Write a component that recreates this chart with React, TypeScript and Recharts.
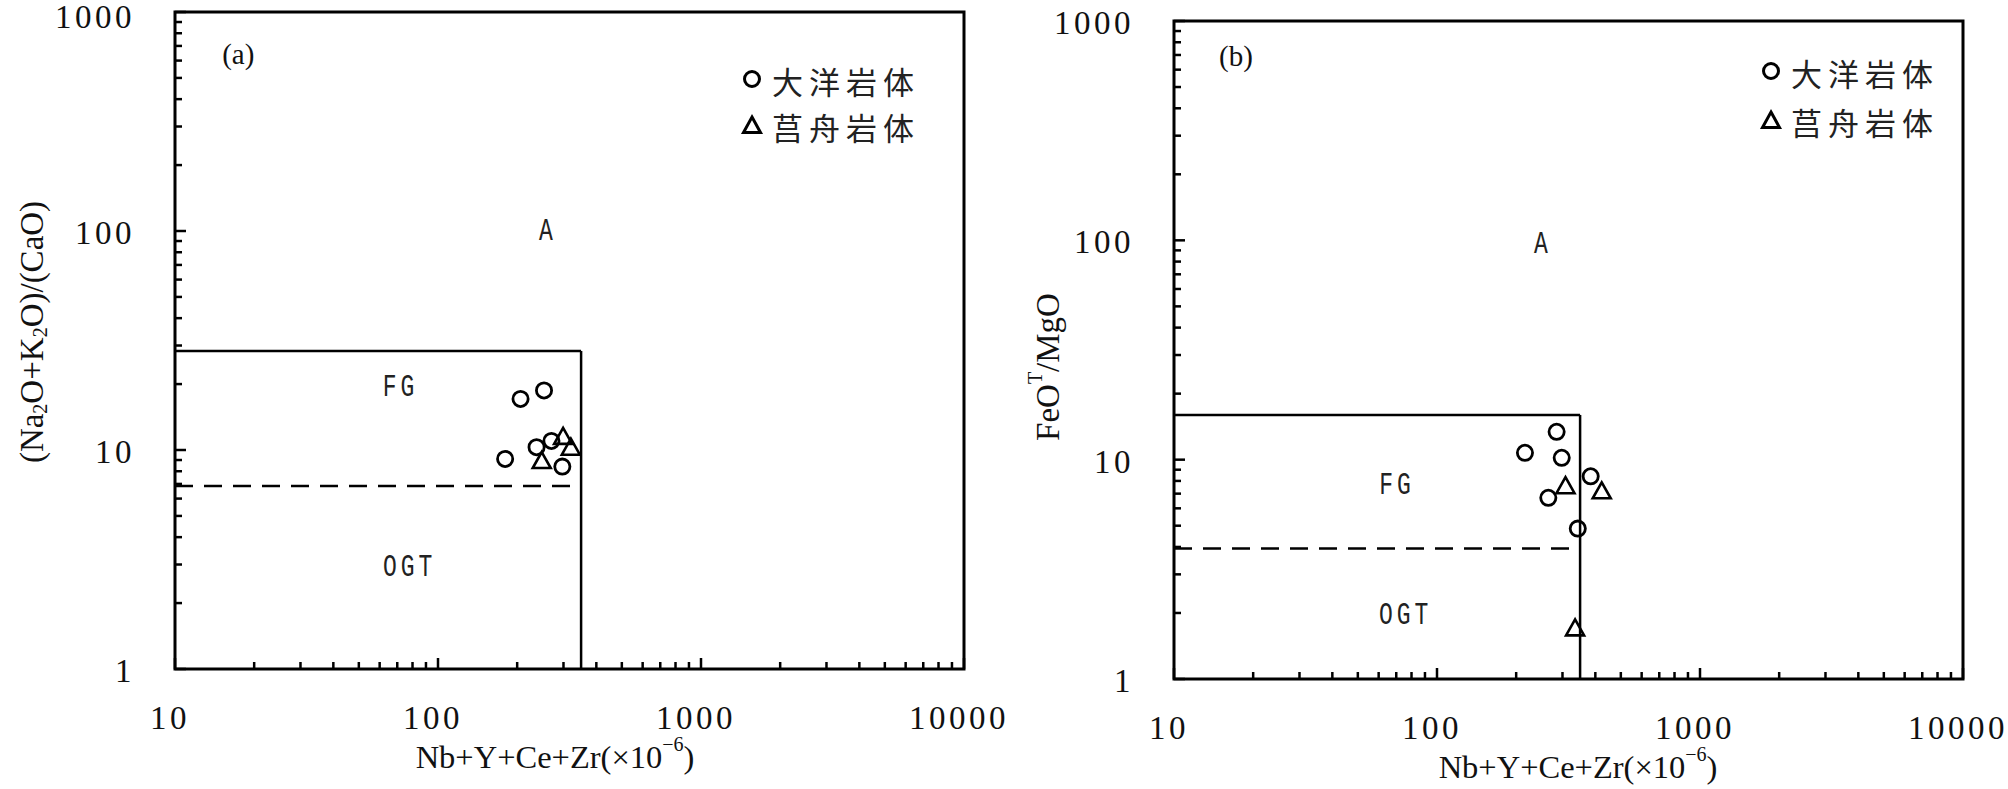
import React from "react";
import {
  ScatterChart,
  Scatter,
  XAxis,
  YAxis,
  ReferenceLine,
  ReferenceArea,
  ReferenceDot,
} from "recharts";

// legend names
const seriesNames = ["大洋岩体", "莒舟岩体"];

// log axes: all tick positions, and the labelled decades
const xTicks = [
  10, 20, 30, 40, 50, 60, 70, 80, 90, 100, 200, 300, 400, 500, 600, 700, 800,
  900, 1000, 2000, 3000, 4000, 5000, 6000, 7000, 8000, 9000, 10000,
];
const xMajor = [10, 100, 1000, 10000];
const yTicks = [
  1, 2, 3, 4, 5, 6, 7, 8, 9, 10, 20, 30, 40, 50, 60, 70, 80, 90, 100, 200, 300,
  400, 500, 600, 700, 800, 900, 1000,
];
const yMajor = [1, 10, 100, 1000];

// panel (a): (Na2O+K2O)/CaO
const dayangAx = [206, 253, 180, 237, 270, 297];
const dayangAy = [17.1, 18.7, 9.1, 10.3, 11.0, 8.4];
const juzhouAx = [248, 299, 320];
const juzhouAy = [9.0, 11.6, 10.35];
// field lines: [box right x, box top y, dashed y, dashed end x]
const fieldA = [350, 28.3, 6.85, 320];

// panel (b): FeOT/MgO
const dayangBx = [285, 216, 298, 384, 265, 343];
const dayangBy = [13.4, 10.75, 10.2, 8.4, 6.7, 4.85];
const juzhouBx = [308, 423, 335];
const juzhouBy = [7.65, 7.25, 1.72];
const fieldB = [350, 16.0, 3.94, 318];

// field names and where they sit
const regionNames = ["A", "FG", "OGT"];
const regionAx = [262, 72, 78];
const regionAy = [100, 19.2, 2.9];
const regionBx = [253, 70.5, 76];
const regionBy = [96, 7.6, 1.94];
// panel tag position
const tagA = [17.4, 643];
const tagB = [17.2, 692];

const SERIF = '"Liberation Serif", "Times New Roman", serif';
const CJK = '"Noto Sans CJK SC", "Noto Sans CJK JP", sans-serif';

const zip = (xs: number[], ys: number[]) => xs.map((x, i) => ({ x, y: ys[i] }));

const Circle = (p: any) => (
  <circle cx={p.cx} cy={p.cy} r={7.6} fill="none" stroke="#000" strokeWidth={2.8} />
);
const Tri = (p: any) => (
  <path
    d={`M${p.cx},${p.cy - 8} L${p.cx + 9},${p.cy + 8} L${p.cx - 9},${p.cy + 8} Z`}
    fill="none"
    stroke="#000"
    strokeWidth={2.6}
    strokeLinejoin="miter"
  />
);

function makeXTick(labelDy: number) {
  return (props: any) => {
    const { x, y, payload } = props;
    const v = payload.value;
    const major = xMajor.includes(v);
    return (
      <g>
        <line x1={x} y1={y} x2={x} y2={y - (major ? 11 : 7)} stroke="#000" strokeWidth={2.5} />
        {major ? (
          <text
            x={x - 5}
            y={y + labelDy}
            textAnchor="middle"
            dominantBaseline="central"
            fontFamily={SERIF}
            fontSize={33}
            fill="#111"
            style={{ letterSpacing: 3.5 }}
          >
            {v}
          </text>
        ) : null}
      </g>
    );
  };
}

function makeYTick(labelDx: number) {
  return (props: any) => {
    const { x, y, payload } = props;
    const v = payload.value;
    const major = yMajor.includes(v);
    return (
      <g>
        <line x1={x} y1={y} x2={x + (major ? 11 : 7)} y2={y} stroke="#000" strokeWidth={2.5} />
        {major ? (
          <text
            x={x - labelDx}
            y={Math.max(y + 2, 17)}
            textAnchor="end"
            dominantBaseline="central"
            fontFamily={SERIF}
            fontSize={33}
            fill="#111"
            style={{ letterSpacing: 3.5 }}
          >
            {v}
          </text>
        ) : null}
      </g>
    );
  };
}

type PanelProps = {
  left: number;
  width: number;
  plot: { l: number; t: number; r: number; b: number };
  dayang: { x: number; y: number }[];
  juzhou: { x: number; y: number }[];
  field: number[];
  rx: number[];
  ry: number[];
  tag: number[];
  tagText: string;
  yTitle: React.ReactNode;
  yTitlePos: [number, number];
  xTitlePos: [number, number];
  legendPos: [number, number, number];
};

function Panel(p: PanelProps) {
  const H = 789;
  const [boxX, boxY, dashY, dashX] = p.field;
  return (
    <div style={{ position: "absolute", left: p.left, top: 0, width: p.width, height: H }}>
      <ScatterChart
        width={p.width}
        height={H}
        margin={{ top: p.plot.t, right: p.plot.r, bottom: 0, left: 0 }}
      >
        <XAxis
          type="number"
          dataKey="x"
          scale="log"
          domain={[10, 10000]}
          allowDataOverflow
          ticks={xTicks}
          interval={0}
          height={p.plot.b}
          axisLine={false}
          tickLine={false}
          tickSize={0}
          tickMargin={0}
          tick={makeXTick(49)}
          label={{
            content: () => (
              <text
                x={p.xTitlePos[0]}
                y={p.xTitlePos[1]}
                textAnchor="middle"
                dominantBaseline="central"
                fontFamily={SERIF}
                fontSize={32.5}
                fill="#111"
              >
                Nb+Y+Ce+Zr(×10
                <tspan dy={-13} fontSize={20}>
                  −6
                </tspan>
                <tspan dy={13}>)</tspan>
              </text>
            ),
          }}
        />
        <YAxis
          type="number"
          dataKey="y"
          scale="log"
          domain={[1, 1000]}
          allowDataOverflow
          ticks={yTicks}
          interval={0}
          width={p.plot.l}
          axisLine={false}
          tickLine={false}
          tickSize={0}
          tickMargin={0}
          tick={makeYTick(40)}
          label={{
            content: () => (
              <text
                x={p.yTitlePos[0]}
                y={p.yTitlePos[1]}
                textAnchor="middle"
                dominantBaseline="central"
                fontFamily={SERIF}
                fontSize={33}
                fill="#111"
                transform={`rotate(-90 ${p.yTitlePos[0]} ${p.yTitlePos[1]})`}
              >
                {p.yTitle}
              </text>
            ),
          }}
        />
        <ReferenceArea
          x1={10}
          x2={10000}
          y1={1}
          y2={1000}
          fill="none"
          fillOpacity={0}
          stroke="#000"
          strokeWidth={3}
        />
        <ReferenceLine
          segment={[
            { x: 10, y: boxY },
            { x: boxX, y: boxY },
          ]}
          stroke="#000"
          strokeWidth={2.5}
        />
        <ReferenceLine
          segment={[
            { x: boxX, y: 1 },
            { x: boxX, y: boxY },
          ]}
          stroke="#000"
          strokeWidth={2.5}
        />
        <ReferenceLine
          segment={[
            { x: 10, y: dashY },
            { x: dashX, y: dashY },
          ]}
          stroke="#000"
          strokeWidth={2.5}
          strokeDasharray="18 11"
        />
        {regionNames.map((name, i) => (
          <ReferenceDot
            key={name}
            x={p.rx[i]}
            y={p.ry[i]}
            r={0}
            shape={(d: any) => (
              <text
                transform={`translate(${d.cx},${d.cy}) scale(1,1.35)`}
                textAnchor="middle"
                dominantBaseline="central"
                fontFamily='"Liberation Mono", monospace'
                fontSize={23}
                fill="#222"
                style={{ letterSpacing: 4 }}
              >
                {name}
              </text>
            )}
          />
        ))}
        <ReferenceDot
          x={p.tag[0]}
          y={p.tag[1]}
          r={0}
          shape={(d: any) => (
            <text
              x={d.cx}
              y={d.cy}
              textAnchor="middle"
              dominantBaseline="central"
              fontFamily={SERIF}
              fontSize={29}
              fill="#111"
            >
              {p.tagText}
            </text>
          )}
        />
        <Scatter name={seriesNames[0]} data={p.dayang} shape={Circle} isAnimationActive={false} />
        <Scatter name={seriesNames[1]} data={p.juzhou} shape={Tri} isAnimationActive={false} />
      </ScatterChart>
      <svg
        width={p.width}
        height={H}
        style={{ position: "absolute", left: 0, top: 0, pointerEvents: "none" }}
      >
        {seriesNames.map((name, i) => {
          const cx = p.legendPos[0];
          const cy = p.legendPos[1] + i * p.legendPos[2];
          return (
            <g key={name}>
              {i === 0 ? (
                <circle cx={cx} cy={cy} r={7.5} fill="none" stroke="#000" strokeWidth={3} />
              ) : (
                <path
                  d={`M${cx},${cy - 8} L${cx + 8.5},${cy + 7.5} L${cx - 8.5},${cy + 7.5} Z`}
                  fill="none"
                  stroke="#000"
                  strokeWidth={3}
                />
              )}
              <text
                x={cx + 20}
                y={cy + 1}
                dominantBaseline="central"
                fontFamily={CJK}
                fontSize={31}
                fill="#222"
                style={{ letterSpacing: 6 }}
              >
                {name}
              </text>
            </g>
          );
        })}
      </svg>
    </div>
  );
}

export default function App() {
  return (
    <div
      style={{
        position: "absolute",
        left: 0,
        top: 0,
        width: 2008,
        height: 789,
        background: "#fff",
        overflow: "hidden",
      }}
    >
      <Panel
        left={0}
        width={1070}
        plot={{ l: 175, t: 12, r: 106, b: 120 }}
        dayang={zip(dayangAx, dayangAy)}
        juzhou={zip(juzhouAx, juzhouAy)}
        field={fieldA}
        rx={regionAx}
        ry={regionAy}
        tag={tagA}
        tagText="(a)"
        yTitle={
          <>
            (Na
            <tspan dy={8} fontSize={20}>
              2
            </tspan>
            <tspan dy={-8}>O+K</tspan>
            <tspan dy={8} fontSize={20}>
              2
            </tspan>
            <tspan dy={-8}>O)/(CaO)</tspan>
          </>
        }
        yTitlePos={[32, 332]}
        xTitlePos={[555, 757]}
        legendPos={[752, 79, 46]}
      />
      <Panel
        left={1000}
        width={1008}
        plot={{ l: 174, t: 21, r: 45, b: 110 }}
        dayang={zip(dayangBx, dayangBy)}
        juzhou={zip(juzhouBx, juzhouBy)}
        field={fieldB}
        rx={regionBx}
        ry={regionBy}
        tag={tagB}
        tagText="(b)"
        yTitle={
          <>
            FeO
            <tspan dy={-13} fontSize={20}>
              T
            </tspan>
            <tspan dy={13}>/MgO</tspan>
          </>
        }
        yTitlePos={[48, 367]}
        xTitlePos={[578, 767]}
        legendPos={[771, 71, 49]}
      />
    </div>
  );
}
